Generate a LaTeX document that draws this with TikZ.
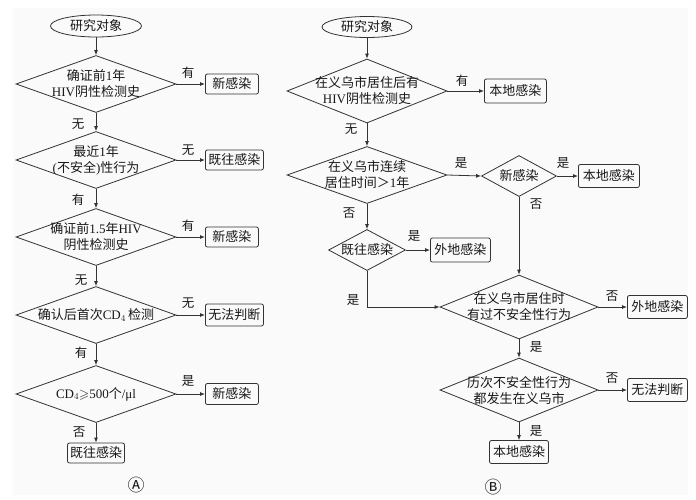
\documentclass[tikz,border=0pt]{standalone}
\usepackage{fontspec}
\usepackage{amssymb}
\setmainfont{Liberation Serif}
\newfontfamily\cjk{Noto Sans CJK SC}
\newcommand\lat[1]{{\rmfamily #1}}
\usetikzlibrary{shapes.geometric,arrows.meta}
\begin{document}
\begin{tikzpicture}[x=1pt,y=-1pt,
  every node/.style={font=\cjk\fontsize{13}{16}\selectfont, text=black!90},
  ln/.style={draw=black!80, line width=0.8pt},
  arr/.style={ln, -{Latex[length=5pt,width=4pt]}},
  dia/.style={ln, diamond, inner sep=0pt, minimum width=160pt, minimum height=57pt},
  sdia/.style={ln, diamond, inner sep=0pt, minimum width=77pt, minimum height=41pt},
  ell/.style={ln, ellipse, inner sep=0pt, minimum width=91pt, minimum height=22pt},
  box/.style={ln, rectangle, rounded corners=2pt, inner sep=0pt, minimum height=21pt, minimum width=58pt},
  boxw/.style={box, anchor=west},
  txt/.style={align=center, inner sep=0pt},
  lbl/.style={inner sep=0pt, font=\cjk\fontsize{12.5}{14}\selectfont},
  captxt/.style={inner sep=0pt, font=\cjk\fontsize{17}{18}\selectfont}
]
\useasboundingbox (0,0) rectangle (696,499);
\fill[black!2] (13,8) rectangle (688,495);

% ---------- Panel A ----------
\node[ell] (a0) at (96,26) {研究对象};
\node[dia] (a1) at (96,84) {};
\node[txt] at (a1) {确证前\lat{1}年\\\lat{HIV}阴性检测史};
\node[dia] (a2) at (96,160) {};
\node[txt] at (a2) {最近\lat{1}年\\\lat{(}不安全\lat{)}性行为};
\node[dia] (a3) at (96,237) {};
\node[txt] at (a3) {确证前\lat{1.5}年\lat{HIV}\\阴性检测史};
\node[dia] (a4) at (96,315) {};
\node[txt] at (a4) {确认后首次\lat{CD}$_4$\,检测};
\node[dia] (a5) at (96,394) {};
\node[txt] at (a5) {\lat{CD}$_4{\geqslant}$\lat{500}个\lat{/μl}};
\node[box, minimum width=57pt, minimum height=20pt] (a6) at (96,453) {既往感染};

\node[boxw, minimum width=53pt, minimum height=20pt] (ab1) at (205,84) {新感染};
\node[boxw, minimum height=20pt] (ab2) at (205,160) {既往感染};
\node[boxw, minimum width=53pt, minimum height=20pt] (ab3) at (205,237) {新感染};
\node[boxw, minimum height=22pt] (ab4) at (205,315) {无法判断};
\node[boxw, minimum width=53pt, minimum height=21pt] (ab5) at (205,394) {新感染};

\draw[arr] (a0) -- (a1.north);
\draw[arr] (a1.south) -- (a2.north);
\draw[arr] (a2.south) -- (a3.north);
\draw[arr] (a3.south) -- (a4.north);
\draw[arr] (a4.south) -- (a5.north);
\draw[arr] (a5.south) -- (a6.north);
\draw[arr] (a1.east) -- (ab1.west);
\draw[arr] (a2.east) -- (ab2.west);
\draw[arr] (a3.east) -- (ab3.west);
\draw[arr] (a4.east) -- (ab4.west);
\draw[arr] (a5.east) -- (ab5.west);

\node[lbl] (la1) at (188,73) {有};
\node[lbl] (la2) at (78,124) {无};
\node[lbl] (la3) at (188,150) {无};
\node[lbl] (la4) at (78,200) {有};
\node[lbl] (la5) at (188,226) {有};
\node[lbl] (la6) at (81,280) {无};
\node[lbl] (la7) at (188,303) {无};
\node[lbl] (la8) at (81,353) {有};
\node[lbl] (la9) at (188,381) {是};
\node[lbl] (la10) at (79,432) {否};
\node[captxt] (capA) at (136,485) {Ⓐ};

% ---------- Panel B ----------
\node[ell, minimum width=90pt, minimum height=21pt] (b0) at (367,27) {研究对象};
\node[dia, minimum height=64pt] (b1) at (367,91) {};
\node[txt] at (b1) {在义乌市居住后有\\\lat{HIV}阴性检测史};
\node[dia] (b2) at (367,175) {};
\node[txt] at (b2) {在义乌市连续\\居住时间＞\lat{1}年};
\node[sdia, minimum width=75pt] (bs1) at (519,176) {};
\node[txt] at (bs1) {新感染};
\node[sdia] (bs2) at (367,250) {};
\node[txt] at (bs2) {既往感染};
\node[dia, minimum width=158pt, minimum height=64pt] (b3) at (519,307) {};
\node[txt] at (b3) {在义乌市居住时\\有过不安全性行为};
\node[dia, minimum width=158pt, minimum height=64pt] (b4) at (519,390) {};
\node[txt] at (b4) {历次不安全性行为\\都发生在义乌市};

\node[boxw, minimum width=62pt, minimum height=24pt] (bb1) at (484,91) {本地感染};
\node[boxw, minimum width=61pt, minimum height=23pt] (bb2) at (578,176) {本地感染};
\node[boxw, minimum width=60pt, minimum height=24pt] (bb3) at (430,250) {外地感染};
\node[boxw, minimum width=60pt, minimum height=23pt] (bb4) at (627,307) {外地感染};
\node[boxw, minimum width=60pt, minimum height=23pt] (bb5) at (627,390) {无法判断};
\node[box, minimum width=59pt, minimum height=23pt] (bb6) at (519,452) {本地感染};

\draw[arr] (b0) -- (b1.north);
\draw[arr] (b1.east) -- (bb1.west);
\draw[arr] (b1.south) -- (b2.north);
\draw[arr] (b2.east) -- (bs1.west);
\draw[arr] (bs1.east) -- (bb2.west);
\draw[arr] (bs1.south) -- (b3.north);
\draw[arr] (b2.south) -- (bs2.north);
\draw[arr] (bs2.east) -- (bb3.west);
\draw[arr] (bs2.south) |- (b3.west);
\draw[arr] (b3.east) -- (bb4.west);
\draw[arr] (b3.south) -- (b4.north);
\draw[arr] (b4.east) -- (bb5.west);
\draw[arr] (b4.south) -- (bb6.north);

\node[lbl] (lb1) at (462,81) {有};
\node[lbl] (lb2) at (351,129) {无};
\node[lbl] (lb3) at (461,163) {是};
\node[lbl] (lb4) at (563,163) {是};
\node[lbl] (lb5) at (536,204) {否};
\node[lbl] (lb6) at (349,213) {否};
\node[lbl] (lb7) at (414,236) {是};
\node[lbl] (lb8) at (353,300) {是};
\node[lbl] (lb9) at (612,296) {否};
\node[lbl] (lb10) at (536,347) {是};
\node[lbl] (lb11) at (612,378) {否};
\node[lbl] (lb12) at (536,431) {是};
\node[captxt] (capB) at (493,487) {Ⓑ};
\end{tikzpicture}
\end{document}
